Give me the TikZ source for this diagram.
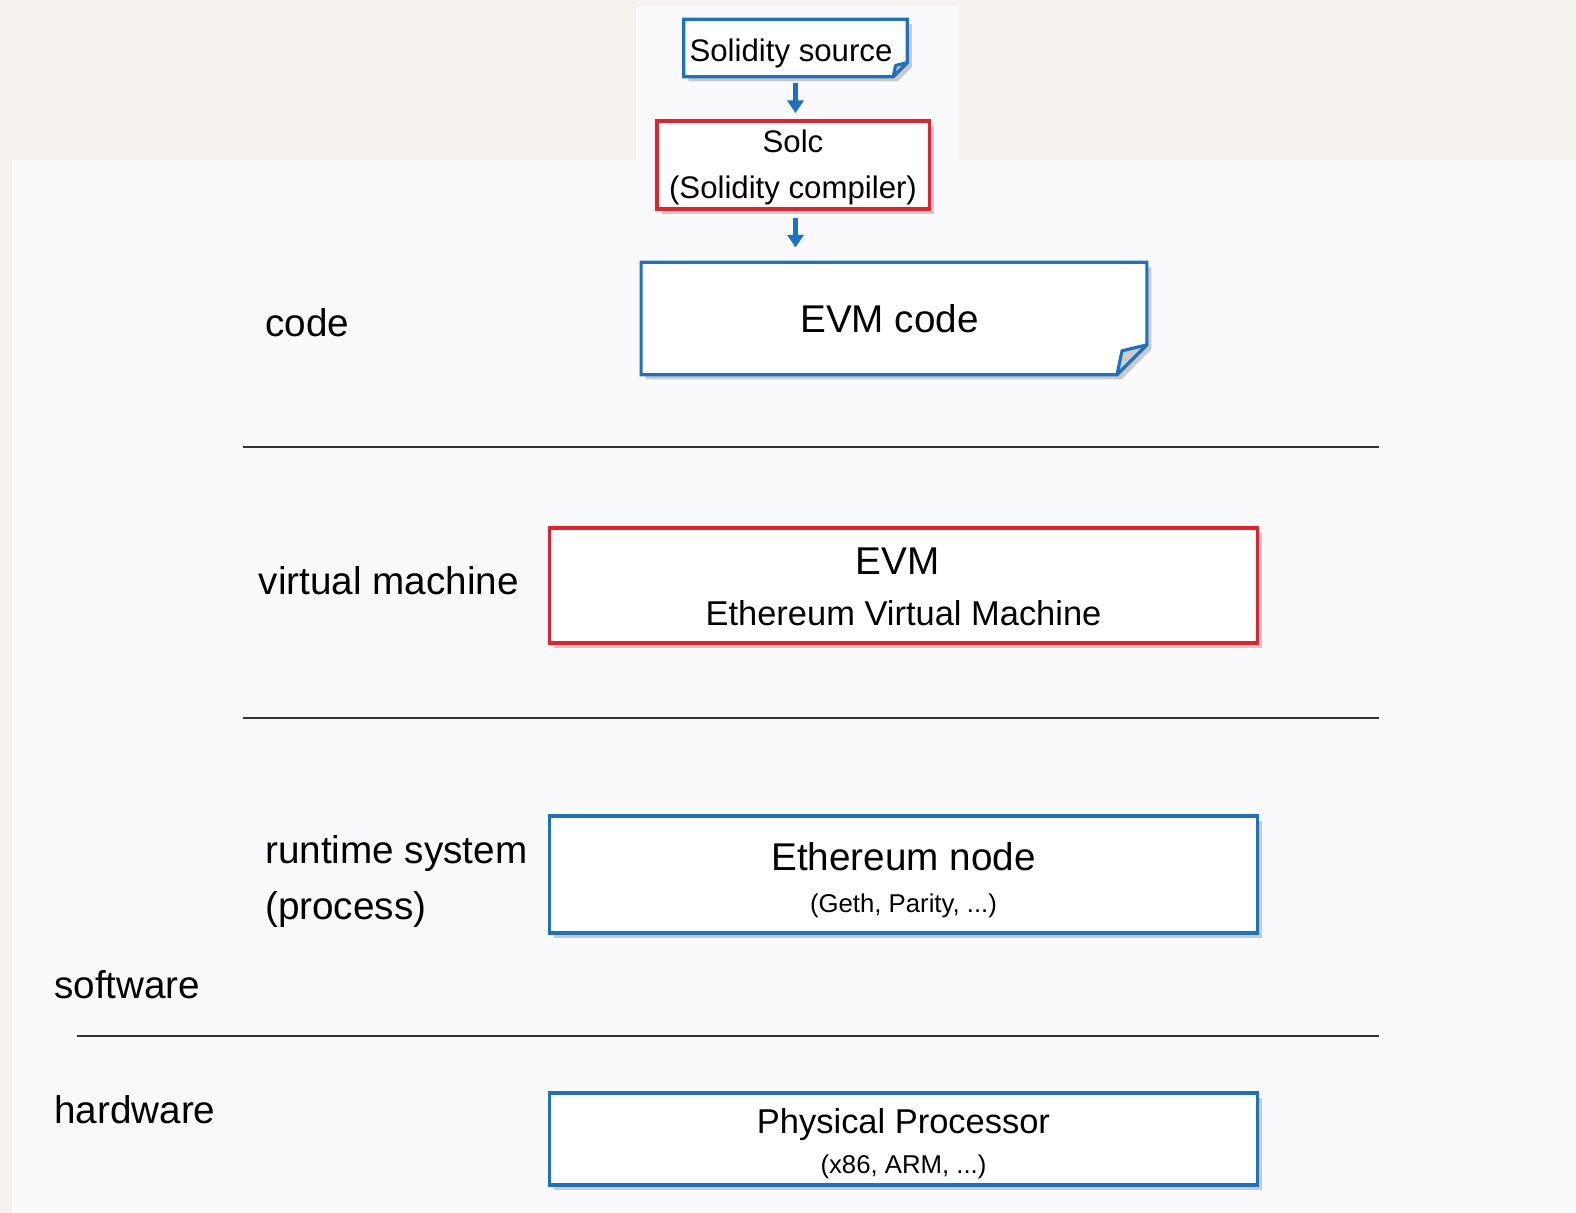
\documentclass[tikz,border=0pt]{standalone}
\usepackage{fontspec}
\setmainfont{Liberation Sans}
\usetikzlibrary{arrows.meta,shadows,backgrounds,positioning}

\definecolor{evmblue}{HTML}{1C72C2}
\definecolor{evmred}{HTML}{E8202A}
\definecolor{pagebg}{HTML}{F5F2ED}
\definecolor{slidebg}{HTML}{FAFAFD}

\newcommand{\layerfont}{\fontsize{11}{13}\selectfont}
\newcommand{\subfont}{\fontsize{9.8}{12}\selectfont}
\newcommand{\toolfont}{\fontsize{8.87}{11}\selectfont}
\newcommand{\notefont}{\fontsize{7.32}{9}\selectfont}

\tikzset{
  box/.style={line width=0.9pt, fill=white, inner sep=0,
    drop shadow={opacity=0.4, shadow xshift=1.3pt, shadow yshift=-1.3pt}},
  bluebox/.style={box, draw=evmblue},
  redbox/.style={box, draw=evmred},
  holder/.style={inner sep=0, draw=none},
  txt/.style={anchor=base, inner sep=0},
  layer/.style={anchor=base west, inner sep=0, font=\layerfont},
  flow/.style={evmblue, line width=1.2pt, -{Triangle[width=4.6pt,length=3.6pt]}},
  divider/.style={line width=0.6pt, black!80},
}

% page outline with a turned-down corner, drawn under a node
\newcommand{\foldedpage}[2]{%
  \draw[bluebox] (#1.north west) -- (#1.north east) -- ([yshift=#2]#1.south east)
    -- ([xshift=-#2]#1.south east) -- (#1.south west) -- cycle;
  \draw[evmblue, line width=0.9pt, fill=black!20, line join=round]
    ([yshift=#2]#1.south east) -- ([xshift=-0.83*#2, yshift=0.8*#2]#1.south east)
    -- ([xshift=-#2]#1.south east) -- cycle;
}

\begin{document}
\begin{tikzpicture}[x=0.01cm, y=-0.01cm]
    \useasboundingbox (0,0) rectangle (1576,1213);

    %nodes
    \node[holder, minimum width=2.22cm, minimum height=0.56cm] (src) at (795.5,48) {};
    \node[redbox, minimum width=2.72cm, minimum height=0.88cm] (solc) at (793,165) {};
    \node[holder, minimum width=5.04cm, minimum height=1.11cm] (evmcode) at (894,318.5) {};
    \node[redbox, minimum width=7.07cm, minimum height=1.15cm] (evm) at (903.5,585.5) {};
    \node[bluebox, minimum width=7.07cm, minimum height=1.17cm] (client) at (903.5,874.5) {};
    \node[bluebox, minimum width=7.07cm, minimum height=0.92cm] (cpu) at (903.5,1139) {};

    %background and page shapes
    \begin{scope}[on background layer]
        \fill[pagebg] (0,0) rectangle (1576,1213);
        \fill[slidebg] (12,160) rectangle (1576,1213);
        \fill[slidebg] (636,6) rectangle (959,160);
        \foldedpage{src}{4pt}
        \foldedpage{evmcode}{8.5pt}
    \end{scope}

    %texts in boxes
    \node[txt, font=\toolfont] (srctext) at (791,62) {Solidity source};
    \node[txt, font=\toolfont] (solctext) at (793,153) {Solc};
    \node[txt, font=\toolfont] (solcsub) at (793,199) {(Solidity compiler)};
    \node[txt, font=\layerfont] (evmcodetext) at (889.5,333) {EVM code};
    \node[txt, font=\layerfont] (evmtext) at (897.5,575) {EVM};
    \node[txt, font=\subfont] (evmsub) at (903.5,626) {Ethereum Virtual Machine};
    \node[txt, font=\layerfont] (clienttext) at (903.5,870) {Ethereum node};
    \node[txt, font=\notefont] (clientsub) at (903.5,912) {(Geth, Parity, ...)};
    \node[txt, font=\subfont] (cputext) at (903.5,1133) {Physical Processor};
    \node[txt, font=\notefont] (cpusub) at (903.5,1173) {(x86, ARM, ...)};

    %layer names
    \node[layer] (lcode) at (264.5,337) {code};
    \node[layer] (lvm) at (258,595) {virtual machine};
    \node[layer] (lrun) at (264.5,863) {runtime system};
    \node[layer] (lproc) at (264.5,919) {(process)};
    \node[layer] (lsw) at (53.5,998) {software};
    \node[layer] (lhw) at (53.5,1123) {hardware};

    %dividers
    \coordinate (d1a) at (243,447);  \coordinate (d1b) at (1379,447);
    \coordinate (d2a) at (243,718);  \coordinate (d2b) at (1379,718);
    \coordinate (d3a) at (77,1036);  \coordinate (d3b) at (1379,1036);
    \draw[divider] (d1a) -- (d1b);
    \draw[divider] (d2a) -- (d2b);
    \draw[divider] (d3a) -- (d3b);

    %compile arrows
    \draw[flow, shorten <=1.7pt, shorten >=1.8pt] (src.south) -- (src.south |- solc.north);
    \draw[flow, shorten <=2pt, shorten >=4.2pt] (solc.south -| src.south) -- (src.south |- evmcode.north);
\end{tikzpicture}
\end{document}
